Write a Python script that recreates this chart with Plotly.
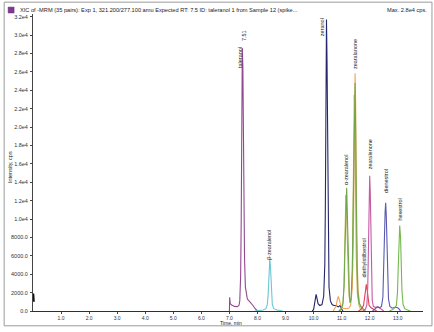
import plotly.graph_objects as go

# ---- data ----
start_t = [0.0, 0.02]
start_i = [1900, 1000]

taleranol_t = [7.00, 7.01, 7.03, 7.08, 7.18, 7.28, 7.34, 7.37, 7.40, 7.42, 7.44, 7.46, 7.48, 7.50, 7.52, 7.54, 7.57, 7.60, 7.64, 7.70, 7.76, 7.84, 7.92, 8.00]
taleranol_i = [0, 1500, 800, 650, 500, 480, 600, 1100, 3800, 9500, 20000, 28600, 26500, 19000, 11000, 5600, 2600, 1700, 1300, 1100, 900, 600, 250, 0]

bzearalenol_t = [7.90, 8.20, 8.30, 8.35, 8.38, 8.40, 8.42, 8.44, 8.46, 8.48, 8.50, 8.53, 8.58, 8.70, 8.90]
bzearalenol_i = [0, 100, 250, 700, 1700, 3300, 5000, 5700, 5000, 3400, 1800, 700, 250, 100, 0]

zeranol_t = [9.95, 10.00, 10.03, 10.06, 10.09, 10.12, 10.16, 10.22, 10.30, 10.36, 10.40, 10.42, 10.44, 10.46, 10.48, 10.50, 10.52, 10.55, 10.60, 10.66, 10.72, 10.80, 10.88, 10.95, 11.00, 11.05]
zeranol_i = [0, 150, 700, 1500, 1800, 1400, 800, 600, 700, 1600, 5000, 11500, 24000, 31700, 27000, 16000, 7500, 2600, 1100, 700, 600, 600, 450, 600, 200, 0]

olive_t = [10.95, 11.04, 11.08, 11.11, 11.13, 11.15, 11.17, 11.19, 11.22, 11.26, 11.30, 11.34, 11.38, 11.41, 11.43, 11.45, 11.47, 11.49, 11.52, 11.56, 11.62, 11.70]
olive_i = [0, 600, 2600, 6500, 10000, 12600, 11800, 9000, 5000, 1800, 900, 1300, 4000, 11000, 18500, 23500, 21500, 15000, 6000, 1800, 600, 0]

zearalanone_t = [10.70, 10.80, 10.85, 10.88, 10.92, 10.97, 11.05, 11.15, 11.25, 11.32, 11.38, 11.42, 11.44, 11.46, 11.48, 11.50, 11.52, 11.54, 11.58, 11.64, 11.72, 11.80]
zearalanone_i = [0, 500, 1300, 1600, 1200, 600, 300, 250, 300, 600, 2500, 8000, 14500, 22000, 25850, 22500, 15000, 8000, 2500, 800, 300, 0]

green_t = [10.90, 11.00, 11.05, 11.09, 11.12, 11.14, 11.16, 11.18, 11.20, 11.22, 11.25, 11.28, 11.31, 11.34, 11.38, 11.42, 11.44, 11.46, 11.48, 11.50, 11.52, 11.55, 11.58, 11.62, 11.68, 11.76, 11.85]
green_i = [0, 300, 900, 2800, 6800, 10500, 13100, 13400, 11000, 7500, 3500, 1500, 900, 1500, 4500, 13000, 19500, 24300, 24800, 19500, 12000, 5000, 2000, 900, 500, 300, 0]

des_t = [11.60, 11.70, 11.78, 11.82, 11.85, 11.88, 11.91, 11.94, 11.98, 12.05, 12.15, 12.25]
des_i = [0, 200, 600, 1400, 2400, 2900, 2300, 1300, 600, 350, 150, 0]

zearalenone_t = [11.75, 11.85, 11.90, 11.93, 11.96, 11.98, 12.00, 12.02, 12.04, 12.06, 12.09, 12.13, 12.20, 12.30, 12.40, 12.50]
zearalenone_i = [0, 200, 700, 2500, 7500, 12000, 14700, 13000, 8500, 4000, 1200, 500, 400, 450, 250, 0]

dienestrol_t = [12.10, 12.20, 12.28, 12.35, 12.42, 12.47, 12.50, 12.53, 12.55, 12.57, 12.59, 12.61, 12.64, 12.67, 12.72, 12.80, 12.90, 13.00, 13.05, 13.10]
dienestrol_i = [0, 300, 450, 350, 500, 1500, 4000, 8500, 10800, 11760, 10500, 7800, 3500, 1300, 500, 300, 400, 350, 200, 0]

hexestrol_t = [12.70, 12.85, 12.95, 12.99, 13.02, 13.04, 13.07, 13.10, 13.12, 13.15, 13.19, 13.25, 13.35, 13.45]
hexestrol_i = [0, 200, 600, 2000, 5000, 8000, 9300, 8000, 5500, 2200, 700, 250, 100, 0]

x_ticks = [1.0, 2.0, 3.0, 4.0, 5.0, 6.0, 7.0, 8.0, 9.0, 10.0, 11.0, 12.0, 13.0]
x_tick_text = ["1.0", "2.0", "3.0", "4.0", "5.0", "6.0", "7.0", "8.0", "9.0", "10.0", "11.0", "12.0", "13.0"]
y_ticks = [0, 2000, 4000, 6000, 8000, 10000, 12000, 14000, 16000, 18000, 20000, 22000, 24000, 26000, 28000, 30000, 32000]
y_tick_text = ["0.0", "2000.0", "4000.0", "6000.0", "8000.0", "1.0e4", "1.2e4", "1.4e4", "1.6e4", "1.8e4",
               "2.0e4", "2.2e4", "2.4e4", "2.6e4", "2.8e4", "3.0e4", "3.2e4"]

peak_labels = ["taleranol", "7.51", "β-zearalenol", "zeranol", "zearalanone", "α-zearalenol",
               "zearalenone", "diethylstilbestrol", "dienestrol", "hexestrol"]
peak_label_x = [7.37, 7.50, 8.42, 10.31, 11.50, 11.18, 12.00, 11.79, 12.60, 13.07]
peak_label_y = [27600, 29950, 7200, 30900, 27900, 15300, 17000, 5800, 14100, 11000]

header = "XIC of -MRM (35 pairs): Exp 1, 321.200/277.100 amu Expected RT: 7.5 ID: taleranol 1 from Sample 12 (spike..."
header_right = "Max. 2.8e4 cps."

# ---- figure ----
FONT = "Liberation Sans, Arial, sans-serif"
fig = go.Figure()

series = [
    (start_t, start_i, "#111111", 2.5),
    (taleranol_t, taleranol_i, "#93488F", 1.1),
    (bzearalenol_t, bzearalenol_i, "#6EC6D6", 1.1),
    (zeranol_t, zeranol_i, "#26266C", 1.1),
    (olive_t, olive_i, "#B9B24C", 1.0),
    (zearalanone_t, zearalanone_i, "#F2A35A", 1.1),
    (green_t, green_i, "#6FA84A", 1.1),
    (des_t, des_i, "#E0405A", 1.1),
    (zearalenone_t, zearalenone_i, "#C45AA2", 1.1),
    (dienestrol_t, dienestrol_i, "#5A5AB0", 1.1),
    (hexestrol_t, hexestrol_i, "#74B84F", 1.1),
]
for t, i, c, w in series:
    fig.add_trace(go.Scatter(x=t, y=i, mode="lines", line=dict(color=c, width=w),
                             hoverinfo="skip", showlegend=False, cliponaxis=False))

for txt, x, y in zip(peak_labels, peak_label_x, peak_label_y):
    fig.add_annotation(x=x, y=y, xref="x", yref="y", text=txt, showarrow=False,
                       textangle=-90, font=dict(family=FONT, size=5.5, color="#222222"),
                       xanchor="center", yanchor="middle")

L, R, T, B = 31, 11, 14, 17
W, H = 434, 332
pw, ph = W - L - R, H - T - B

def px(xp):
    return (xp - L) / pw

def py(yp):
    return (H - B - yp) / ph

fig.add_shape(type="rect", xref="paper", yref="paper", x0=px(2), x1=px(432), y0=py(330), y1=py(2),
              line=dict(color="#9a9a9a", width=1), fillcolor="rgba(0,0,0,0)", layer="below")
fig.add_shape(type="rect", xref="paper", yref="paper", x0=px(6), x1=px(12), y0=py(13), y1=py(7),
              line=dict(color="#6A2E7E", width=0.5), fillcolor="#7E3A8E")
fig.add_annotation(xref="paper", yref="paper", x=px(16), y=py(10), text=header, showarrow=False,
                   xanchor="left", yanchor="middle", font=dict(family=FONT, size=5.65, color="#222222"))
fig.add_annotation(xref="paper", yref="paper", x=px(429), y=py(10), text=header_right, showarrow=False,
                   xanchor="right", yanchor="middle", font=dict(family=FONT, size=5.65, color="#222222"))
fig.add_annotation(xref="paper", yref="paper", x=px(8), y=py(169), text="Intensity, cps", showarrow=False,
                   textangle=-90, xanchor="center", yanchor="middle",
                   font=dict(family=FONT, size=5.5, color="#222222"))
fig.add_annotation(xref="paper", yref="paper", x=px(230), y=py(327.5), text="Time, min", showarrow=False,
                   xanchor="center", yanchor="middle", font=dict(family=FONT, size=5, color="#222222"))

fig.update_layout(
    width=W, height=H,
    margin=dict(l=L, r=R, t=T, b=B, pad=0),
    paper_bgcolor="white", plot_bgcolor="white",
    showlegend=False,
    xaxis=dict(range=[0, 13.9], tickvals=x_ticks, ticktext=x_tick_text, showgrid=False, zeroline=False,
               showline=True, linecolor="#2b2b4b", linewidth=1.2, ticks="outside", ticklen=2,
               tickcolor="#444444", tickfont=dict(family=FONT, size=5, color="#333333"), ticklabelstandoff=0),
    yaxis=dict(range=[0, 32300], tickvals=y_ticks, ticktext=y_tick_text, showgrid=False, zeroline=False,
               showline=True, linecolor="#444444", linewidth=1, ticks="outside", ticklen=2,
               tickcolor="#444444", tickfont=dict(family=FONT, size=5.5, color="#333333"), ticklabelstandoff=1),
)

fig.write_html("out.html")
